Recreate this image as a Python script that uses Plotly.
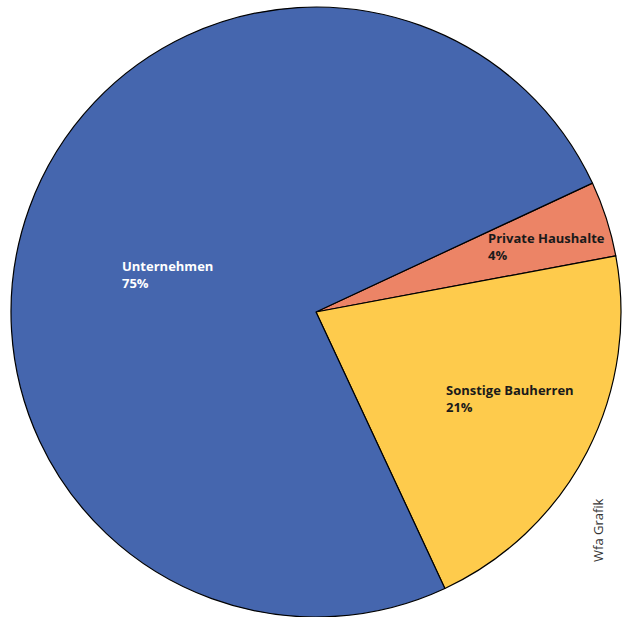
import math
import plotly.graph_objects as go

labels = ["Private Haushalte", "Sonstige Bauherren", "Unternehmen"]
values = [4, 21, 75]
colors = ["#EC8466", "#FECB4C", "#4566AE"]
text_colors = ["#1a1a1a", "#1a1a1a", "#ffffff"]
label_radius = [0.784, 0.696, 0.502]
label_angle_offset = [-2.0, 3.3, 5.8]

W, H = 625, 617
cx, cy, R = 316, 312, 305
rotation = 65  # degrees clockwise from 12 o'clock

fig = go.Figure(go.Pie(
    labels=labels, values=values, sort=False, direction="clockwise",
    rotation=rotation, marker=dict(colors=colors, line=dict(color="#000000", width=1.2)),
    textinfo="none", hoverinfo="label+percent", showlegend=False,
    domain=dict(x=[(cx - R) / W, (cx + R) / W], y=[max(0, 1 - (cy + R) / H), 1 - (cy - R) / H]),
))

total = sum(values)
start = 90 - rotation  # math angle in degrees
cum = 0
for lab, v, tc, rf, off in zip(labels, values, text_colors, label_radius, label_angle_offset):
    mid = start - 360 * (cum + v / 2) / total + off
    cum += v
    a = math.radians(mid)
    px = cx + rf * R * math.cos(a)
    py = cy - rf * R * math.sin(a)
    pct = round(100 * v / total)
    fig.add_annotation(
        x=px / W, y=1 - py / H, xref="paper", yref="paper",
        text=f"<b>{lab}</b><br><b>{pct}%</b>", showarrow=False, align="left",
        xanchor="center", yanchor="middle",
        font=dict(family="Open Sans, Noto Sans, sans-serif", size=13, color=tc),
    )

fig.add_annotation(
    x=598 / W, y=1 - 530 / H, xref="paper", yref="paper", text="Wfa Grafik",
    textangle=-90, showarrow=False, xanchor="center", yanchor="middle",
    font=dict(family="Open Sans, Noto Sans, sans-serif", size=13, color="#333333"),
)

fig.update_layout(width=W, height=H, margin=dict(l=0, r=0, t=0, b=0),
                  paper_bgcolor="white", plot_bgcolor="white")
fig.write_html("out.html", config={"displayModeBar": False},
               post_script="document.body.style.margin='0';")
